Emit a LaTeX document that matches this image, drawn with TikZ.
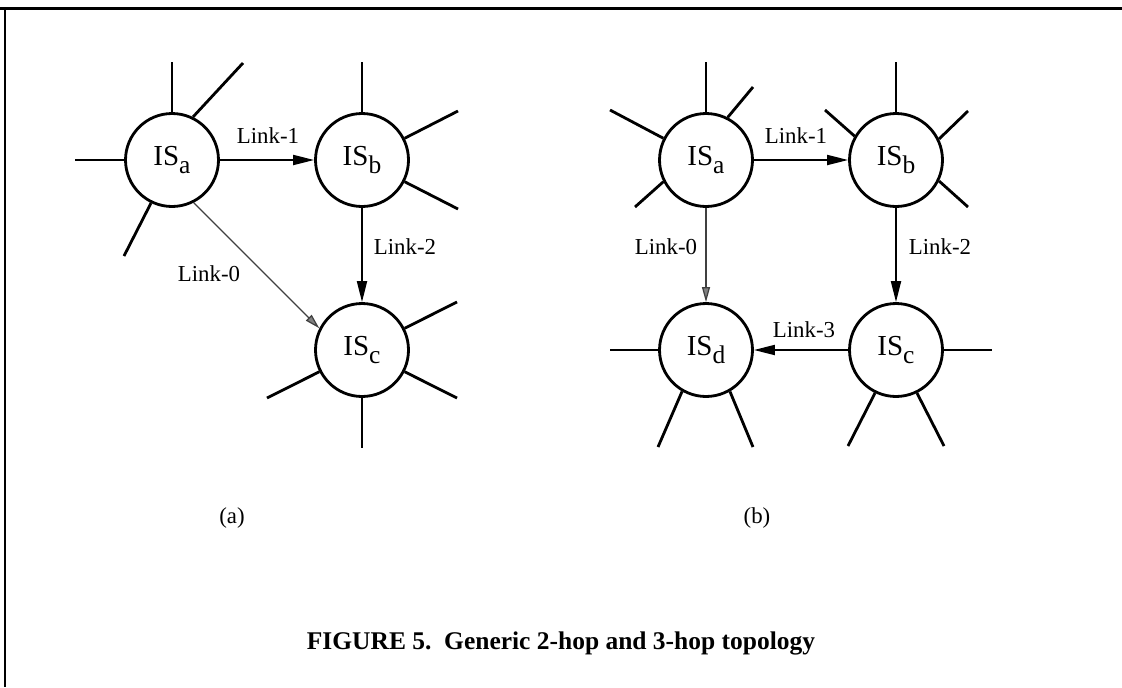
\documentclass[tikz,border=0pt]{standalone}
\usepackage{fontspec}
\setmainfont{Liberation Serif}
\usetikzlibrary{arrows.meta}

\newcommand{\isname}[1]{IS\raisebox{-0.3em}{\fontsize{14.5}{14.5}\selectfont #1}}

\begin{document}
\begin{tikzpicture}[x=0.02cm,y=-0.02cm,
	isnode/.style={circle,draw,line width=1.6pt,minimum size=1.86cm,inner sep=0pt,font=\fontsize{16.5}{16.5}\selectfont},
	spoke/.style={line width=1.6pt},
	link/.style={line width=1.1pt,-{Triangle[length=0.42cm,width=0.2cm]}},
	zerolink/.style={line width=0.7pt,black!75,-{Triangle[length=0.3cm,width=0.16cm,open,fill=black!50]}},
	lbl/.style={font=\fontsize{13}{13}\selectfont,inner sep=0pt},
]
	\useasboundingbox (0,0) rectangle (1122,687);
	% frame
	\draw[line width=0.06cm] (0,8) -- (1122,8);
	\draw[line width=0.06cm] (5,8) -- (5,687);

	% (a) two hops
	\node[isnode] (aA) at (172,160) {\isname{a}};
	\node[isnode] (aB) at (362,160) {\isname{b}};
	\node[isnode] (aC) at (362,350) {\isname{c}};
	\foreach \ang/\x/\y in {90/172/62, 64/243/63, 180/75/160, 244/124/256}{
		\draw[spoke] (aA.\ang) -- (\x,\y);
	}
	\foreach \ang/\x/\y in {90/362/62, 27/458/111, -27/458/209}{
		\draw[spoke] (aB.\ang) -- (\x,\y);
	}
	\foreach \ang/\x/\y in {27/457/302, -27/457/398, -90/362/448, 207/267/398}{
		\draw[spoke] (aC.\ang) -- (\x,\y);
	}
	\draw[link] (aA) -- (aB);
	\draw[link] (aB) -- (aC);
	\draw[zerolink] (aA.297) -- (aC.153);
	\node[lbl] (aL1) at (268,136) {Link-1};
	\node[lbl] (aL2) at (405,247) {Link-2};
	\node[lbl] (aL0) at (209,274) {Link-0};
	\node[lbl] (acap) at (232,518) {(a)};

	% (b) three hops
	\node[isnode] (bA) at (706,160) {\isname{a}};
	\node[isnode] (bB) at (896,160) {\isname{b}};
	\node[isnode] (bC) at (896,350) {\isname{c}};
	\node[isnode] (bD) at (706,350) {\isname{d}};
	\foreach \ang/\x/\y in {90/706/62, 63/753/87, 153/610/110, 207/635/207}{
		\draw[spoke] (bA.\ang) -- (\x,\y);
	}
	\foreach \ang/\x/\y in {90/896/62, 150/825/110, 26/968/111, -26/968/207}{
		\draw[spoke] (bB.\ang) -- (\x,\y);
	}
	\foreach \ang/\x/\y in {0/992/350, 244/848/446, 296/944/446}{
		\draw[spoke] (bC.\ang) -- (\x,\y);
	}
	\foreach \ang/\x/\y in {180/610/350, 240/658/447, 300/753/447}{
		\draw[spoke] (bD.\ang) -- (\x,\y);
	}
	\draw[link] (bA) -- (bB);
	\draw[link] (bB) -- (bC);
	\draw[link] (bC) -- (bD);
	\draw[zerolink] (bA) -- (bD);
	\node[lbl] (bL1) at (796,136) {Link-1};
	\node[lbl] (bL2) at (940,247) {Link-2};
	\node[lbl] (bL0) at (666,247) {Link-0};
	\node[lbl] (bL3) at (804,330) {Link-3};
	\node[lbl] (bcap) at (757,518) {(b)};

	\node[inner sep=0pt,anchor=base] (title) at (561,649)
		{\fontsize{14.5}{15}\selectfont\bfseries FIGURE 5.\ \ Generic 2-hop and 3-hop topology};
\end{tikzpicture}
\end{document}
